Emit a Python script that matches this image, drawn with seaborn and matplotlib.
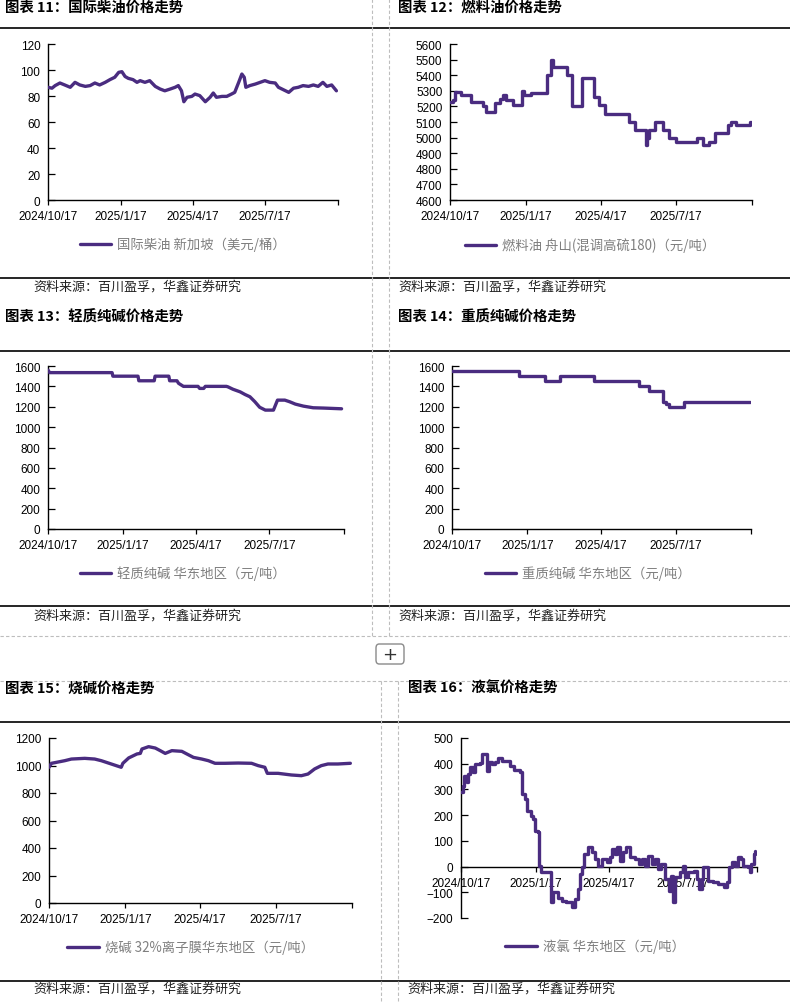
import numpy as np
import pandas as pd
import matplotlib
matplotlib.use("Agg")
import matplotlib.pyplot as plt
import seaborn as sns
from matplotlib.lines import Line2D
from matplotlib.patches import FancyBboxPatch

sns.set_theme(style="white")
plt.rcParams["font.family"] = ["Liberation Sans", "Noto Sans CJK SC", "DejaVu Sans"]
plt.rcParams["axes.unicode_minus"] = True
CJK = ["Noto Sans CJK SC", "DejaVu Sans"]

# ---------------- data (days since 2024/10/17, values) ----------------
START = pd.Timestamp("2024-10-17")
END = pd.Timestamp("2025-10-17")
tick_dates = ["2024-10-17", "2025-01-17", "2025-04-17", "2025-07-17", "2025-10-17"]
tick_labels = ["2024/10/17", "2025/1/17", "2025/4/17", "2025/7/17", ""]

diesel_days = [0, 5, 9, 15, 21, 28, 34, 40, 47, 53, 59, 65, 72, 78, 84, 89, 93, 97, 101, 107,
               112, 116, 122, 128, 135, 141, 147, 154, 160, 164, 168, 171, 175, 181, 185, 191, 198, 204, 208, 212,
               219, 225, 231, 235, 240, 244, 247, 249, 254, 261, 267, 273, 279, 286, 290, 296, 303, 309, 315, 321,
               328, 334, 340, 346, 351, 357, 363]
diesel_vals = [86.7, 86, 88, 90, 88.5, 86.7, 90.5, 88.5, 87.4, 88, 90, 88.5, 90.5, 92.6, 94.4, 98.2, 98.7, 95, 93.6, 92.6,
               90.5, 91.8, 90.5, 91.8, 87.4, 85.4, 84, 85.4, 86.7, 88, 84, 75.6, 79, 79.7, 81.5, 80.3, 75.6, 79, 82.3, 79,
               79.7, 79.7, 81.5, 82.8, 90.5, 96.9, 94.4, 86.7, 88, 89.2, 90.5, 91.8, 90.5, 90, 86.7, 84.9, 82.8, 86, 86.7, 88,
               87.4, 88.5, 87.4, 90.5, 87.4, 88.5, 84]

fuel_days = [0, 4, 6, 13, 25, 40, 44, 54, 60, 64, 68, 76, 87, 89, 98, 117, 122, 124, 141, 147,
             160, 174, 180, 187, 216, 223, 237, 238, 240, 248, 258, 265, 273, 299, 306, 313, 320, 336, 340, 346,
             362, 364]
fuel_vals = [5230, 5240, 5290, 5270, 5230, 5200, 5165, 5220, 5250, 5270, 5240, 5210, 5300, 5270, 5285, 5400, 5500, 5450, 5400, 5200,
             5385, 5260, 5210, 5150, 5100, 5050, 4950, 5000, 5050, 5100, 5050, 5000, 4975, 5000, 4955, 4975, 5030, 5080, 5100, 5080,
             5100, 5100]

light_days = [0, 2, 79, 80, 111, 112, 131, 132, 149, 150, 159, 161, 167, 185, 187, 192, 194, 220, 222, 228,
              237, 243, 249, 255, 261, 268, 278, 283, 292, 298, 305, 315, 327, 340, 362]
light_vals = [1560, 1535, 1535, 1500, 1500, 1455, 1455, 1500, 1500, 1455, 1455, 1430, 1400, 1400, 1380, 1380, 1400, 1400, 1395, 1372,
              1346, 1320, 1298, 1250, 1195, 1167, 1167, 1265, 1265, 1249, 1226, 1206, 1190, 1187, 1180]

heavy_days = [0, 82, 113, 132, 173, 228, 240, 257, 261, 265, 283, 364]
heavy_vals = [1550, 1500, 1450, 1500, 1450, 1400, 1350, 1250, 1225, 1200, 1250, 1250]

caustic_days = [0, 3, 9, 19, 27, 43, 55, 63, 75, 87, 89, 96, 106, 110, 112, 120, 128, 134, 140, 148,
                160, 166, 174, 184, 192, 200, 212, 228, 244, 252, 260, 263, 276, 292, 304, 312, 320, 328, 336, 348, 363]
caustic_vals = [987, 1016, 1023, 1035, 1047, 1052, 1047, 1035, 1011, 987, 1016, 1055, 1084, 1088, 1120, 1137, 1127, 1108, 1088, 1108,
                1103, 1084, 1059, 1047, 1035, 1016, 1016, 1018, 1016, 999, 987, 943, 943, 931, 926, 938, 975, 999, 1011, 1011, 1016]

chlorine_days = [0, 2, 4, 7, 9, 11, 15, 17, 23, 26, 32, 34, 38, 42, 46, 50, 60, 65, 73, 75,
                 79, 82, 86, 89, 91, 95, 96, 99, 111, 114, 120, 124, 130, 137, 141, 144, 147, 149, 152, 157,
                 161, 165, 169, 174, 180, 184, 186, 190, 192, 196, 200, 204, 208, 215, 219, 223, 227, 231, 235, 239,
                 243, 247, 252, 256, 259, 262, 264, 270, 274, 276, 280, 287, 291, 293, 297, 299, 304, 311, 317, 324,
                 328, 331, 334, 338, 341, 345, 348, 354, 356, 358, 361, 363]
chlorine_vals = [289, 315, 351, 330, 360, 386, 367, 399, 403, 438, 373, 405, 399, 408, 421, 412, 393, 377, 367, 282,
                 263, 217, 198, 185, 140, 133, 4, -22, -137, -100, -124, -133, -139, -158, -126, -87, -29, -3, 49, 75,
                 56, 29, 4, 29, 17, 36, 68, 49, 75, 23, 56, 75, 36, 29, 10, 29, 4, 42, 10, 29,
                 -10, 10, -48, -94, -35, -139, -42, -22, 4, -42, -22, -16, -48, -87, -48, -3, -55, -61, -68, -81,
                 -61, -3, 17, 4, 36, 29, 4, -3, -22, 10, 49, 62]

titles = ["图表 11：国际柴油价格走势", "图表 12：燃料油价格走势", "图表 13：轻质纯碱价格走势",
          "图表 14：重质纯碱价格走势", "图表 15：烧碱价格走势", "图表 16：液氯价格走势"]
legend_labels = ["国际柴油 新加坡（美元/桶）", "燃料油 舟山(混调高硫180)（元/吨）", "轻质纯碱 华东地区（元/吨）",
                 "重质纯碱 华东地区（元/吨）", "烧碱 32%离子膜华东地区（元/吨）", "液氯 华东地区（元/吨）"]
source_text = "资料来源：百川盈孚，华鑫证券研究"

# ---------------- layout ----------------
W, H = 790, 1003
PURPLE = "#4a2c80"
fig = plt.figure(figsize=(W / 100, H / 100), dpi=100)


def box(l, t, r, b):
    return [l / W, 1 - b / H, (r - l) / W, (b - t) / H]


def fx(x):
    return x / W


def fy(y):
    return 1 - y / H


def panel(rect, days, vals, label, ylim, ystep, step, leg_xy, hl, zero_axis=False):
    ax = fig.add_axes(box(*rect))
    df = pd.DataFrame({"date": START + pd.to_timedelta(days, unit="D"), "value": vals})
    kw = {"drawstyle": "steps-post"} if step else {}
    sns.lineplot(data=df, x="date", y="value", ax=ax, color=PURPLE, linewidth=2.4,
                 estimator=None, sort=False, label=label, zorder=3, **kw)
    ax.set_xlim(START, END)
    ax.set_ylim(*ylim)
    ax.set_yticks(np.arange(ylim[0], ylim[1] + 1, ystep))
    ax.set_xticks(pd.to_datetime(tick_dates))
    ax.set_xticklabels(tick_labels)
    ax.set_xlabel("")
    ax.set_ylabel("")
    sns.despine(ax=ax)
    for s in ("left", "bottom"):
        ax.spines[s].set_color("black")
        ax.spines[s].set_linewidth(1.0)
    if zero_axis:
        ax.spines["bottom"].set_position(("data", 0))
    ax.tick_params(axis="y", left=True, direction="in", length=5, width=0.9,
                   pad=5.5, labelsize=8.5, colors="black")
    ax.tick_params(axis="x", bottom=True, direction="out", length=3.5, width=0.9,
                   pad=4, labelsize=8.5, colors="black")
    ax.patch.set_alpha(0)
    h, l = ax.get_legend_handles_labels()
    ax.legend(h, l, loc="center left", bbox_to_anchor=(fx(leg_xy[0]), fy(leg_xy[1])),
              bbox_transform=fig.transFigure, frameon=False, labelcolor="#7f7f7f",
              handlelength=hl, handletextpad=0.45, borderpad=0, borderaxespad=0,
              prop={"family": CJK, "size": 9.6})
    return ax


panel((48, 45, 338, 201), diesel_days, diesel_vals, legend_labels[0], (0, 120), 20, False, (80, 245), 2.3)
panel((450, 45, 752, 201), fuel_days, fuel_vals, legend_labels[1], (4600, 5600), 100, True, (465, 246), 2.3)
panel((48, 367, 344, 530), light_days, light_vals, legend_labels[2], (0, 1600), 200, False, (80, 574), 2.3)
panel((452, 367, 751, 530), heavy_days, heavy_vals, legend_labels[3], (0, 1600), 200, True, (485, 574), 2.3)
panel((49, 739, 352, 904), caustic_days, caustic_vals, legend_labels[4], (0, 1200), 200, False, (67, 948), 2.4)
panel((461, 739, 757, 919), chlorine_days, chlorine_vals, legend_labels[5], (-200, 500), 100, True, (505, 947), 2.4,
      zero_axis=True)

# titles
for (x, y), t in zip([(5, 8), (398, 8), (5, 317), (398, 317), (5, 689), (408, 689)], titles):
    fig.text(fx(x), fy(y), t, fontsize=10.4, fontweight="bold", ha="left", va="center",
             family=CJK, color="black")

# source notes
for (x, y) in [(33, 287), (398, 287), (33, 616), (398, 616), (33, 989), (407, 989)]:
    fig.text(fx(x), fy(y), source_text, fontsize=9.4, ha="left", va="center", family=CJK, color="#222222")

# black rules
for y in [29, 279, 352, 607, 723, 982]:
    fig.add_artist(Line2D([0, 1], [fy(y), fy(y)], transform=fig.transFigure, color="black", lw=1.2))

# dashed page guides
dash = dict(transform=fig.transFigure, color="#bdbdbd", lw=0.8, linestyle=(0, (3, 2)))
for y in [637, 682]:
    fig.add_artist(Line2D([0, 1], [fy(y), fy(y)], **dash))
for x in [372, 389]:
    fig.add_artist(Line2D([fx(x), fx(x)], [fy(0), fy(637)], **dash))
for x in [381, 398]:
    fig.add_artist(Line2D([fx(x), fx(x)], [fy(682), fy(1003)], **dash))

# "+" button
fig.add_artist(FancyBboxPatch((fx(376), fy(665)), 28 / W, 20 / H,
                              boxstyle="round,pad=0,rounding_size=0.004",
                              transform=fig.transFigure, fc="white", ec="#8a8a8a", lw=1.0))
fig.text(fx(390), fy(655), "+", ha="center", va="center", fontsize=13, color="#333333", family="DejaVu Sans")

fig.savefig("out.png", dpi=100)
